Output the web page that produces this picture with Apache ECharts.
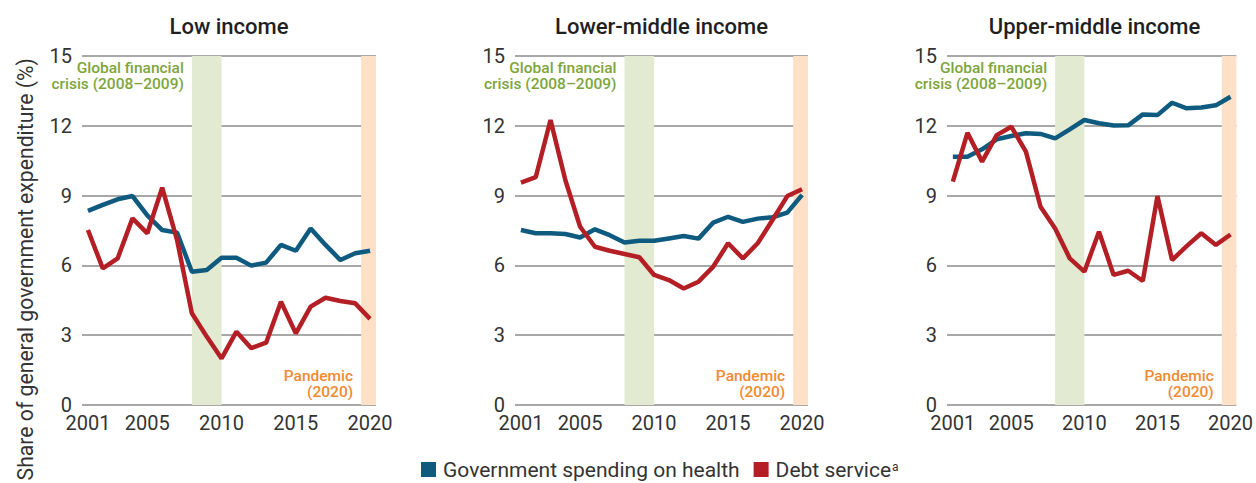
<!DOCTYPE html>
<html>
<head>
<meta charset="utf-8">
<script src="https://cdn.jsdelivr.net/npm/echarts@6/dist/echarts.min.js"></script>
<style>
  html, body { margin: 0; padding: 0; background: #fff; }
  #chart { width: 1256px; height: 483px; }
</style>
</head>
<body>
<div id="chart"></div>
<script>
// Years shown on every panel
const years = [2001, 2002, 2003, 2004, 2005, 2006, 2007, 2008, 2009, 2010,
               2011, 2012, 2013, 2014, 2015, 2016, 2017, 2018, 2019, 2020];

const panelTitles = ['Low income', 'Lower-middle income', 'Upper-middle income'];
const seriesNames = ['Government spending on health', 'Debt service'];

// Share of general government expenditure (%)
const lowHealth = [8.34, 8.6, 8.84, 8.98, 8.15, 7.52, 7.41, 5.73, 5.8, 6.33,
                   6.33, 5.99, 6.12, 6.88, 6.63, 7.59, 6.88, 6.23, 6.52, 6.63];
const lowDebt = [7.52, 5.87, 6.3, 8.02, 7.38, 9.34, 7.1, 3.94, 2.94, 2.0,
                 3.15, 2.44, 2.68, 4.44, 3.08, 4.23, 4.61, 4.47, 4.37, 3.7];

const lowerMidHealth = [7.52, 7.38, 7.38, 7.35, 7.2, 7.55, 7.3, 6.98, 7.06, 7.06,
                        7.16, 7.26, 7.15, 7.84, 8.09, 7.87, 8.01, 8.07, 8.27, 9.03];
const lowerMidDebt = [9.56, 9.79, 12.25, 9.67, 7.66, 6.8, 6.63, 6.49, 6.35, 5.59,
                      5.37, 5.01, 5.3, 5.95, 6.95, 6.3, 6.95, 7.95, 8.98, 9.27];

const upperMidHealth = [10.67, 10.67, 10.99, 11.42, 11.56, 11.68, 11.65, 11.46, 11.85, 12.25,
                        12.11, 12.01, 12.02, 12.49, 12.46, 12.99, 12.75, 12.79, 12.88, 13.25];
const upperMidDebt = [9.6, 11.7, 10.46, 11.6, 11.96, 10.89, 8.52, 7.59, 6.3, 5.73,
                      7.45, 5.59, 5.77, 5.33, 8.98, 6.23, 6.83, 7.38, 6.88, 7.33];

const yTicks = [0, 3, 6, 9, 12, 15];
const xTickLabels = [2001, 2005, 2010, 2015, 2020];

// Shaded periods
const crisisSpan = [2008, 2010];
const pandemicSpan = [2019.4, 2020.4];
const crisisLabel = 'Global financial\ncrisis (2008–2009)';
const pandemicLabel = 'Pandemic\n(2020)';

const healthData = [lowHealth, lowerMidHealth, upperMidHealth];
const debtData = [lowDebt, lowerMidDebt, upperMidDebt];

const BLUE = '#0f5a7f';
const RED = '#b41f25';
const FONT = 'Roboto, "Noto Sans", sans-serif';

const grids = [
  { left: 82, width: 294, top: 56, height: 349 },
  { left: 515, width: 293, top: 56, height: 349 },
  { left: 947, width: 295, top: 56, height: 349 }
];

const pairs = vals => years.map((y, i) => [y, vals[i]]);

const option = {
  backgroundColor: '#fff',
  textStyle: { fontFamily: FONT },
  animation: false,
  title: grids.map((g, i) => ({
    text: panelTitles[i],
    left: g.left + g.width / 2,
    top: 15,
    padding: 0,
    textAlign: 'center',
    textStyle: { fontFamily: FONT, fontSize: 22, fontWeight: 500, color: '#1f1f1f' }
  })),
  grid: grids,
  xAxis: grids.map((g, i) => ({
    type: 'value',
    gridIndex: i,
    min: 2000.6,
    max: 2020.4,
    axisLine: { show: false },
    axisTick: { show: false },
    splitLine: { show: false },
    axisLabel: {
      customValues: xTickLabels,
      formatter: v => String(v),
      margin: 10,
      fontSize: 20,
      lineHeight: 16,
      color: '#333',
      fontFamily: FONT
    }
  })),
  yAxis: grids.map((g, i) => ({
    type: 'value',
    gridIndex: i,
    min: yTicks[0],
    max: yTicks[yTicks.length - 1],
    interval: 3,
    axisLine: { show: false },
    axisTick: { show: false },
    splitLine: { lineStyle: { color: '#a8a8a8', width: 2 } },
    axisLabel: { margin: 10, fontSize: 20, lineHeight: 16, color: '#333', fontFamily: FONT }
  })),
  legend: {
    left: 416,
    top: 454,
    itemWidth: 15,
    itemHeight: 15,
    itemGap: 14,
    icon: 'rect',
    itemStyle: { borderWidth: 0 },
    lineStyle: { width: 0 },
    data: [
      { name: seriesNames[0], icon: 'rect', itemStyle: { color: BLUE, borderWidth: 0 } },
      { name: seriesNames[1], icon: 'rect', itemStyle: { color: RED, borderWidth: 0 } }
    ],
    formatter: name => name === seriesNames[1] ? '{n|' + name + '}{s|a}' : '{n|' + name + '}',
    textStyle: {
      padding: [0, 0, 0, 2],
      rich: {
        n: { fontSize: 21, lineHeight: 18, color: '#333', fontFamily: FONT },
        s: { fontSize: 12, lineHeight: 18, color: '#333', fontFamily: FONT, verticalAlign: 'top', padding: [0, 0, 6, 1] }
      }
    }
  },
  graphic: [{
    type: 'text',
    x: 25,
    y: 58,
    rotation: Math.PI / 2,
    style: {
      text: 'Share of general government expenditure (%)',
      align: 'right',
      verticalAlign: 'middle',
      fontSize: 21.2,
      fontFamily: FONT,
      fill: '#333'
    }
  }],
  series: []
};

grids.forEach((g, i) => {
  option.series.push({
    name: seriesNames[0],
    type: 'line',
    xAxisIndex: i,
    yAxisIndex: i,
    data: pairs(healthData[i]),
    symbol: 'none',
    legendIcon: 'rect',
    z: 3,
    lineStyle: { color: BLUE, width: 4.5 },
    itemStyle: { color: BLUE },
    markArea: {
      silent: true,
      data: [
        [{
          xAxis: crisisSpan[0],
          itemStyle: { color: '#e2ead1' },
          label: {
            show: true,
            formatter: crisisLabel,
            position: [-8, 4],
            align: 'right',
            verticalAlign: 'top',
            lineHeight: 16,
            fontSize: 15.5,
            fontWeight: 500,
            color: '#7da53c',
            fontFamily: FONT
          }
        }, { xAxis: crisisSpan[1] }],
        [{
          xAxis: pandemicSpan[0],
          itemStyle: { color: '#fde0c6' },
          label: {
            show: true,
            formatter: pandemicLabel,
            position: [-8, 344],
            align: 'right',
            verticalAlign: 'bottom',
            lineHeight: 16,
            fontSize: 15.5,
            fontWeight: 500,
            color: '#f08a2f',
            fontFamily: FONT
          }
        }, { xAxis: pandemicSpan[1] }]
      ]
    }
  });
  option.series.push({
    name: seriesNames[1],
    type: 'line',
    xAxisIndex: i,
    yAxisIndex: i,
    data: pairs(debtData[i]),
    symbol: 'none',
    legendIcon: 'rect',
    z: 4,
    lineStyle: { color: RED, width: 4.5 },
    itemStyle: { color: RED }
  });
});

const chart = echarts.init(document.getElementById('chart'), null, { renderer: 'svg' });
chart.setOption(option);
</script>
</body>
</html>
